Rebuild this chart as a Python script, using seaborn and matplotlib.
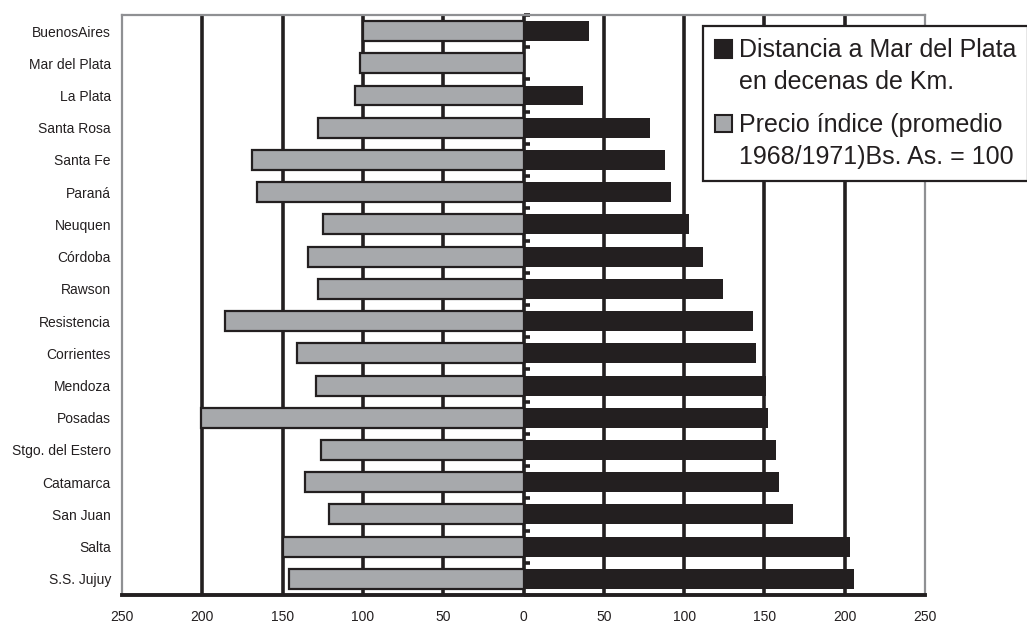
import matplotlib.pyplot as plt
import seaborn as sns
import numpy as np
import pandas as pd
from matplotlib.patches import Rectangle
from matplotlib.legend_handler import HandlerPatch

# Data (top to bottom)
cities = ['BuenosAires', 'Mar del Plata', 'La Plata', 'Santa Rosa', 'Santa Fe', 'Paraná',
          'Neuquen', 'Córdoba', 'Rawson', 'Resistencia', 'Corrientes', 'Mendoza', 'Posadas',
          'Stgo. del Estero', 'Catamarca', 'San Juan', 'Salta', 'S.S. Jujuy']
distancia = [41, 0, 37, 79, 88, 92, 103, 112, 124, 143, 145, 151, 152, 157, 159, 168, 203, 206]
precio = [100, 102, 105, 128, 169, 166, 125, 134, 128, 186, 141, 129, 201, 126, 136, 121, 150, 146]

x_ticks = np.arange(-250, 251, 50)
grid_ticks = np.arange(-200, 201, 50)

lab_dist = 'Distancia a Mar del Plata\nen decenas de Km.'
lab_prec = 'Precio índice (promedio\n1968/1971)Bs. As. = 100'

df = pd.DataFrame({'ciudad': cities, 'distancia': distancia, 'precio': precio})
df['precio_neg'] = -df['precio']

sns.set_style('white')
plt.rcParams['font.family'] = ['Liberation Sans', 'DejaVu Sans']

ink = '#231f20'
gray = '#a7a9ac'
frame_gray = '#8f9093'

fig, ax = plt.subplots(figsize=(10.27, 6.23), dpi=100)
fig.subplots_adjust(left=0.1188, right=0.9007, top=0.976, bottom=0.045)

# grid behind the bars
ax.vlines(grid_ticks, 0, 1, transform=ax.get_xaxis_transform(), color=ink, linewidth=2.6, zorder=0)

sns.barplot(data=df, x='precio_neg', y='ciudad', orient='h', color=gray, edgecolor=ink,
            linewidth=1.6, width=0.62, saturation=1, label=lab_prec, ax=ax, zorder=2)
sns.barplot(data=df, x='distancia', y='ciudad', orient='h', color=ink, linewidth=0,
            width=0.62, saturation=1, label=lab_dist, ax=ax, zorder=2)

ax.set_xlim(-250, 250)
ax.set_xticks(x_ticks)
ax.set_xticklabels([str(abs(v)) for v in x_ticks], fontsize=10, color=ink)
ax.set_xlabel('')
ax.set_ylabel('')
ax.tick_params(axis='y', length=0, pad=8, labelsize=10, labelcolor=ink)
ax.tick_params(axis='x', direction='out', length=3.5, width=2.6, color=ink, pad=7)

for side in ['left', 'right', 'top']:
    ax.spines[side].set_color(frame_gray)
    ax.spines[side].set_linewidth(1.6)
ax.spines['bottom'].set_color(ink)
ax.spines['bottom'].set_linewidth(2.8)

# central axis at zero with small ticks between categories
sec = ax.secondary_yaxis(0.5)
sec.set_yticks(np.arange(len(cities) + 1) - 0.5)
sec.set_yticklabels([])
sec.tick_params(direction='out', length=4, width=2.6, color=ink)
sec.spines['left'].set_color(ink)
sec.spines['left'].set_linewidth(2.6)


# legend square sitting on the first line of each two-line label
def top_square(legend, orig_handle, xdescent, ydescent, width, height, fontsize):
    size = 0.7 * fontsize
    return Rectangle((-xdescent, -ydescent + 0.72 * fontsize), size, size)


containers = dict(zip(*ax.get_legend_handles_labels()[::-1]))
proxies = [containers[lab_dist].patches[0], containers[lab_prec].patches[0]]
fs = 18
leg = ax.legend(proxies, [lab_dist, lab_prec],
                loc='upper left', bbox_to_anchor=(0.6845, 0.958), bbox_transform=fig.transFigure,
                fontsize=fs, frameon=True, fancybox=False, framealpha=1,
                handlelength=0.7, handleheight=0.7, handletextpad=0.25,
                borderpad=0.48, labelspacing=0.75, borderaxespad=0,
                handler_map={p: HandlerPatch(patch_func=top_square) for p in proxies})
leg.get_frame().set_edgecolor(ink)
leg.get_frame().set_linewidth(1.6)
for h in leg.legend_handles:
    h.set_edgecolor(ink)
    h.set_linewidth(1.5)
for t in leg.get_texts():
    t.set_color(ink)
    t.set_linespacing(1.42)

plt.savefig('out.png', dpi=100)
plt.close()
